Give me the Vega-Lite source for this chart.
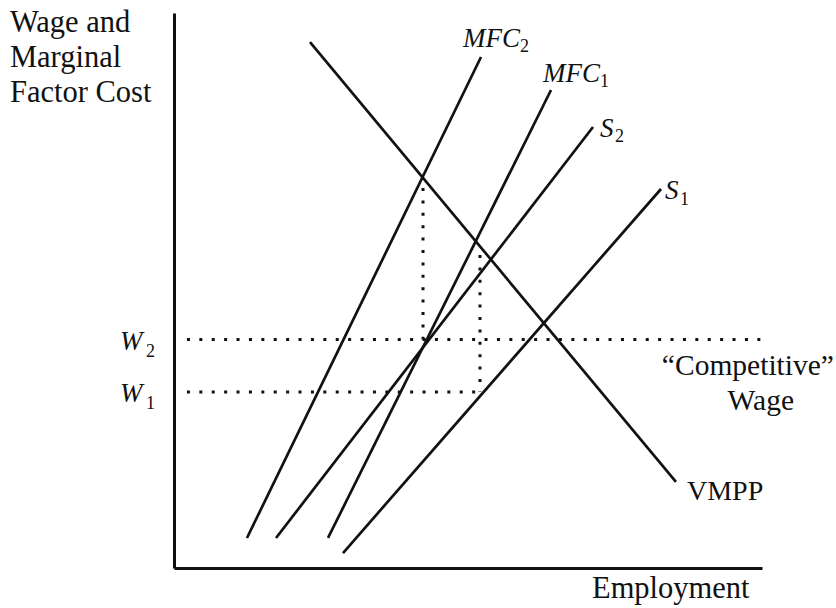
{
  "$schema": "https://vega.github.io/schema/vega-lite/v6.json",
  "autosize": {"type": "none"},
  "padding": {"left": 174, "top": 13, "right": 74, "bottom": 40},
  "width": 588,
  "height": 555,
  "background": "white",
  "config": {
    "view": {"stroke": null},
    "text": {"font": "Liberation Serif", "color": "#111"}
  },
  "datasets": {
    "curves": [
      {"name": "MFC2", "pt": 0, "emp": 12.41, "wage": 5.41},
      {"name": "MFC2", "pt": 1, "emp": 52.21, "wage": 92.07},
      {"name": "S2", "pt": 0, "emp": 17.35, "wage": 5.41},
      {"name": "S2", "pt": 1, "emp": 71.26, "wage": 79.46},
      {"name": "MFC1", "pt": 0, "emp": 26.19, "wage": 5.41},
      {"name": "MFC1", "pt": 1, "emp": 64.12, "wage": 86.13},
      {"name": "S1", "pt": 0, "emp": 28.74, "wage": 2.7},
      {"name": "S1", "pt": 1, "emp": 82.82, "wage": 68.29},
      {"name": "VMPP", "pt": 0, "emp": 23.13, "wage": 94.77},
      {"name": "VMPP", "pt": 1, "emp": 85.37, "wage": 15.5}
    ],
    "guides": [
      {"id": "W2", "pt": 0, "emp": 2.2, "wage": 41.17},
      {"id": "W2", "pt": 1, "emp": 100, "wage": 41.17},
      {"id": "W1", "pt": 0, "emp": 2.2, "wage": 31.71},
      {"id": "W1", "pt": 1, "emp": 52.04, "wage": 31.71},
      {"id": "E2", "pt": 0, "emp": 42.35, "wage": 68.47},
      {"id": "E2", "pt": 1, "emp": 42.35, "wage": 41.17},
      {"id": "E1", "pt": 0, "emp": 52.04, "wage": 56.4},
      {"id": "E1", "pt": 1, "emp": 52.04, "wage": 31.71}
    ],
    "roman": [
      {"label": "Wage and", "emp": -27.9, "wage": 96.58},
      {"label": "Marginal", "emp": -27.9, "wage": 90.27},
      {"label": "Factor Cost", "emp": -27.9, "wage": 83.96},
      {"label": "Employment", "emp": 71.09, "wage": -5.41}
    ],
    "curveName": [
      {"label": "VMPP", "emp": 87.24, "wage": 12.25}
    ],
    "centered": [
      {"label": "“Competitive”", "emp": 97.6, "wage": 34.77},
      {"label": "Wage", "emp": 99.8, "wage": 28.47}
    ],
    "italic": [
      {"label": "MFC", "emp": 49.15, "wage": 93.87},
      {"label": "MFC", "emp": 62.76, "wage": 87.57},
      {"label": "S", "emp": 72.45, "wage": 77.66},
      {"label": "S", "emp": 83.5, "wage": 66.49},
      {"label": "W", "emp": -9.18, "wage": 39.28},
      {"label": "W", "emp": -9.18, "wage": 29.91}
    ],
    "subs": [
      {"label": "2", "emp": 58.85, "wage": 92.97},
      {"label": "1", "emp": 72.45, "wage": 86.67},
      {"label": "2", "emp": 75.0, "wage": 76.76},
      {"label": "1", "emp": 86.05, "wage": 65.41},
      {"label": "2", "emp": -4.76, "wage": 38.02},
      {"label": "1", "emp": -4.76, "wage": 28.65}
    ]
  },
  "encoding": {
    "x": {
      "field": "emp", "type": "quantitative",
      "scale": {"domain": [0, 100], "nice": false, "zero": false},
      "axis": {"domain": true, "domainColor": "#111", "domainWidth": 3, "ticks": false, "labels": false, "grid": false, "title": null}
    },
    "y": {
      "field": "wage", "type": "quantitative",
      "scale": {"domain": [0, 100], "nice": false, "zero": false},
      "axis": {"domain": true, "domainColor": "#111", "domainWidth": 3, "ticks": false, "labels": false, "grid": false, "title": null}
    }
  },
  "layer": [
    {
      "data": {"name": "guides"},
      "mark": {"type": "line", "color": "#111", "strokeWidth": 3, "strokeDash": [3, 9.4], "strokeCap": "butt"},
      "encoding": {"detail": {"field": "id"}, "order": {"field": "pt"}}
    },
    {
      "data": {"name": "curves"},
      "mark": {"type": "line", "color": "#111", "strokeWidth": 2.7, "strokeCap": "butt"},
      "encoding": {"detail": {"field": "name"}, "order": {"field": "pt"}}
    },
    {
      "data": {"name": "roman"},
      "mark": {"type": "text", "align": "left", "baseline": "alphabetic", "fontSize": 30.5},
      "encoding": {"text": {"field": "label"}}
    },
    {
      "data": {"name": "curveName"},
      "mark": {"type": "text", "align": "left", "baseline": "alphabetic", "fontSize": 28},
      "encoding": {"text": {"field": "label"}}
    },
    {
      "data": {"name": "centered"},
      "mark": {"type": "text", "align": "center", "baseline": "alphabetic", "fontSize": 29.5},
      "encoding": {"text": {"field": "label"}}
    },
    {
      "data": {"name": "italic"},
      "mark": {"type": "text", "align": "left", "baseline": "alphabetic", "fontSize": 27, "fontStyle": "italic"},
      "encoding": {"text": {"field": "label"}}
    },
    {
      "data": {"name": "subs"},
      "mark": {"type": "text", "align": "left", "baseline": "alphabetic", "fontSize": 18},
      "encoding": {"text": {"field": "label"}}
    }
  ]
}
